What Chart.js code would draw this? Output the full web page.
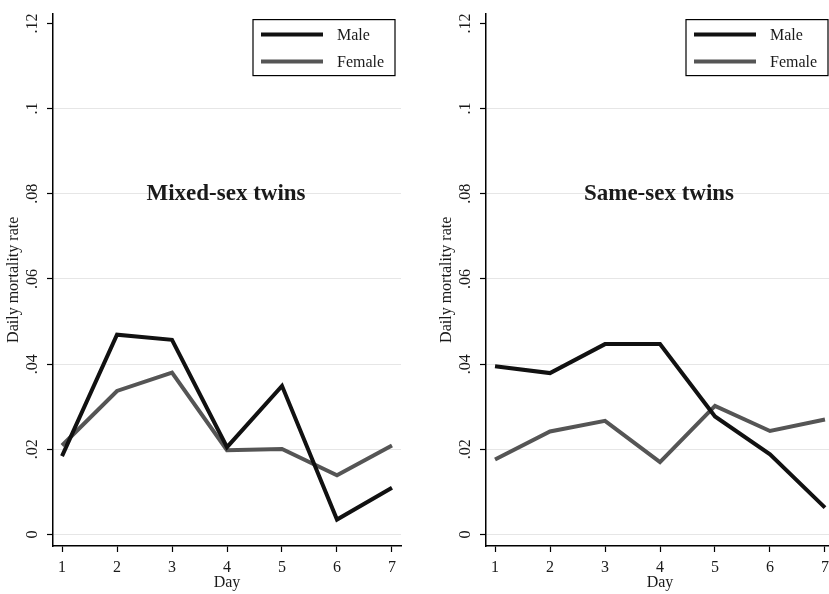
<!DOCTYPE html>
<html>
<head>
<meta charset="utf-8">
<script src="https://cdn.jsdelivr.net/npm/chart.js@4"></script>
<style>
  html, body { margin: 0; padding: 0; background: #fff; }
  #wrap { position: relative; width: 829px; height: 594px; overflow: hidden; }
  .panel { position: absolute; top: 0; width: 433px; height: 594px; }
  #p1 { left: 0; }
  #p2 { left: 433px; }
</style>
</head>
<body>
<div id="wrap">
  <div class="panel" id="p1"><canvas id="mixedChart"></canvas></div>
  <div class="panel" id="p2"><canvas id="sameChart"></canvas></div>
</div>
<script>
// data
const days = [1, 2, 3, 4, 5, 6, 7];
const yTicks = [0, 0.02, 0.04, 0.06, 0.08, 0.1, 0.12];

const mixedMale   = [0.0184, 0.0469, 0.0457, 0.0205, 0.0349, 0.0035, 0.0110];
const mixedFemale = [0.0209, 0.0337, 0.0380, 0.0198, 0.0201, 0.0139, 0.0209];
const sameMale    = [0.0395, 0.0379, 0.0447, 0.0447, 0.0277, 0.0188, 0.0063];
const sameFemale  = [0.0176, 0.0242, 0.0267, 0.0170, 0.0302, 0.0243, 0.0270];

const SERIF = '"Liberation Serif", "Times New Roman", serif';
const MALE_COLOR = '#111111';
const FEMALE_COLOR = '#555555';

// stata style tick labels: .02 instead of 0.02
const fmtTick = v => {
    const r = Math.round(v * 100) / 100;
    if (r === 0) return '0';
    return String(r).replace(/^0/, '');
};

// title in the plot + boxed legend top right
const panelDecor = {
    id: 'panelDecor',
    afterDatasetsDraw(chart, args, opts) {
        const { ctx, chartArea, scales } = chart;
        ctx.save();

        // panel title
        ctx.font = 'bold 23px ' + SERIF;
        ctx.fillStyle = '#1a1a1a';
        ctx.textAlign = 'center';
        ctx.textBaseline = 'middle';
        ctx.fillText(opts.title, (chartArea.left + chartArea.right) / 2 - 1, scales.y.getPixelForValue(0.08));

        // legend box
        const bw = 142, bh = 56;
        const bx = chartArea.right - 6 - bw;
        const by = chartArea.top + 6;
        ctx.fillStyle = '#fff';
        ctx.fillRect(bx, by, bw, bh);
        ctx.strokeStyle = '#000';
        ctx.lineWidth = 1.2;
        ctx.strokeRect(bx, by, bw, bh);

        ctx.font = '16px ' + SERIF;
        ctx.textAlign = 'left';
        chart.data.datasets.forEach((ds, i) => {
            const ly = by + 15 + i * 27;
            ctx.strokeStyle = ds.borderColor;
            ctx.lineWidth = 4;
            ctx.beginPath();
            ctx.moveTo(bx + 8, ly);
            ctx.lineTo(bx + 70, ly);
            ctx.stroke();
            ctx.fillStyle = '#1a1a1a';
            ctx.fillText(ds.label, bx + 84, ly + 1);
        });
        ctx.restore();
    }
};

const makePanel = (canvasId, title, male, female) => {
    const ctx = document.getElementById(canvasId).getContext('2d');
    return new Chart(ctx, {
        type: 'line',
        data: {
            datasets: [
                {
                    label: 'Male',
                    data: days.map((d, i) => ({ x: d, y: male[i] })),
                    borderColor: MALE_COLOR,
                    borderWidth: 4,
                    pointRadius: 0,
                    tension: 0
                },
                {
                    label: 'Female',
                    data: days.map((d, i) => ({ x: d, y: female[i] })),
                    borderColor: FEMALE_COLOR,
                    borderWidth: 4,
                    pointRadius: 0,
                    tension: 0
                }
            ]
        },
        options: {
            responsive: false,
            animation: false,
            layout: { padding: { top: 7, right: 32, left: 0, bottom: 0 } },
            plugins: {
                legend: { display: false },
                tooltip: { enabled: false },
                panelDecor: { title: title }
            },
            scales: {
                x: {
                    type: 'linear',
                    min: 0.836,
                    max: 7.164,
                    afterBuildTicks: s => { s.ticks = days.map(v => ({ value: v })); },
                    afterFit: s => { s.height = 48; },
                    ticks: {
                        color: '#1a1a1a',
                        font: { family: SERIF, size: 16 },
                        padding: 6,
                        maxRotation: 0,
                        callback: v => String(v)
                    },
                    grid: { drawOnChartArea: false, tickColor: '#000', tickLength: 6, tickWidth: 1.2 },
                    border: { display: true, color: '#000', width: 1.5 },
                    title: {
                        display: true,
                        text: 'Day',
                        color: '#1a1a1a',
                        font: { family: SERIF, size: 16 },
                        padding: { top: 0, bottom: 2 }
                    }
                },
                y: {
                    min: -0.0027,
                    max: 0.1223,
                    afterBuildTicks: s => { s.ticks = yTicks.map(v => ({ value: v })); },
                    afterFit: s => { s.width = 53; },
                    ticks: {
                        color: '#1a1a1a',
                        font: { family: SERIF, size: 16 },
                        minRotation: 90,
                        maxRotation: 90,
                        crossAlign: 'center',
                        padding: 4,
                        callback: v => fmtTick(v)
                    },
                    grid: {
                        color: c => (c.tick && c.tick.value > 0.11) ? 'rgba(0,0,0,0)' : '#e6e6e6',
                        lineWidth: 1,
                        tickColor: '#000',
                        tickLength: 6,
                        tickWidth: 1.2
                    },
                    border: { display: true, color: '#000', width: 1.5 },
                    title: {
                        display: true,
                        text: 'Daily mortality rate',
                        color: '#1a1a1a',
                        font: { family: SERIF, size: 16 },
                        padding: { top: 4, bottom: 0 }
                    }
                }
            }
        },
        plugins: [panelDecor]
    });
};

document.getElementById('mixedChart').width = 433;
document.getElementById('mixedChart').height = 594;
document.getElementById('sameChart').width = 433;
document.getElementById('sameChart').height = 594;

makePanel('mixedChart', 'Mixed-sex twins', mixedMale, mixedFemale);
makePanel('sameChart', 'Same-sex twins', sameMale, sameFemale);
</script>
</body>
</html>
